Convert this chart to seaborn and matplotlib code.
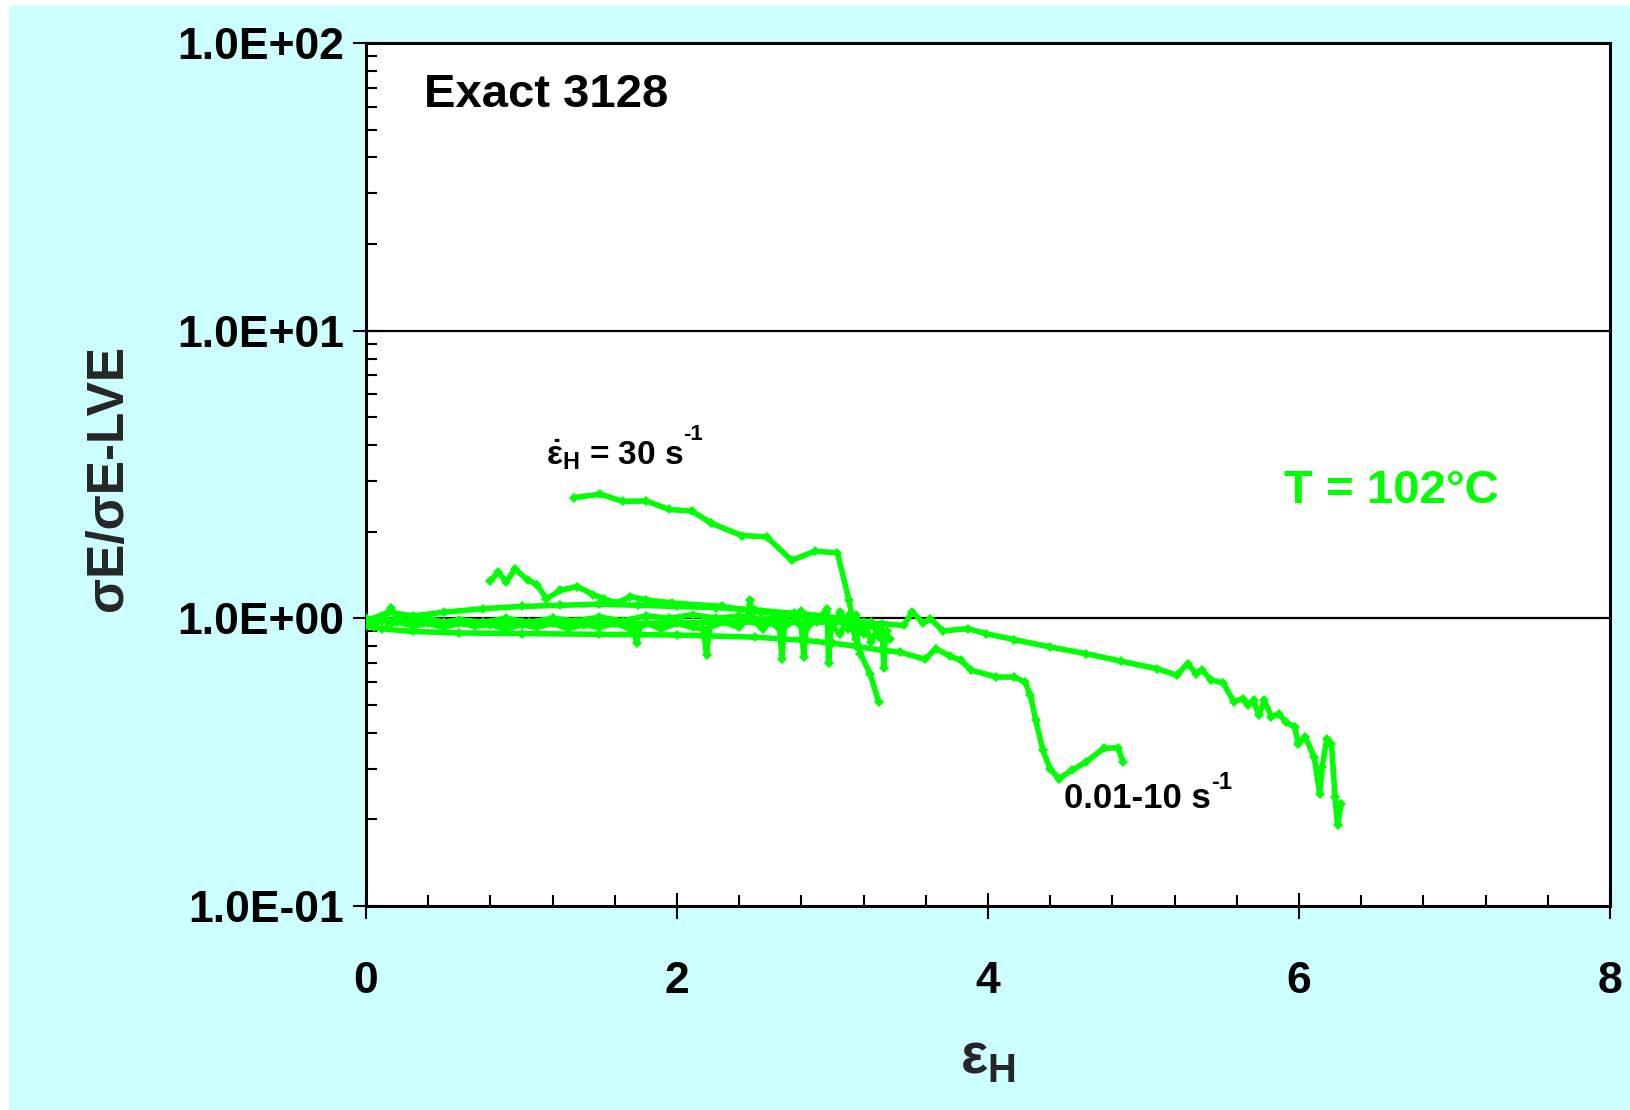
import matplotlib
matplotlib.use("Agg")
import matplotlib.pyplot as plt
from matplotlib.patches import Rectangle
from matplotlib.ticker import FixedLocator, FuncFormatter, MultipleLocator, LogLocator, NullFormatter
import seaborn as sns
import pandas as pd

# ---- data: Hencky strain vs. normalised extensional stress ----
eps_A = [0, 0.1, 0.3, 0.6, 1.0, 1.4, 1.8, 2.2, 2.6, 3.0, 3.2, 3.319, 3.457, 3.514, 3.583,
         3.63, 3.71, 3.871, 3.985, 4.169, 4.399, 4.628, 4.858, 5.088, 5.214, 5.283, 5.34,
         5.375, 5.432, 5.513, 5.581, 5.639, 5.674, 5.708, 5.742, 5.777, 5.823, 5.869,
         5.915, 5.972, 5.995, 6.041, 6.098, 6.133, 6.149, 6.179, 6.209, 6.232, 6.248, 6.271]
ratio_A = [0.97, 0.99, 0.98, 0.97, 0.97, 0.96, 0.96, 0.97, 0.97, 0.97, 0.96, 0.958, 0.945,
           1.052, 0.963, 0.998, 0.904, 0.921, 0.885, 0.843, 0.795, 0.754, 0.709, 0.668,
           0.634, 0.696, 0.642, 0.663, 0.612, 0.596, 0.512, 0.526, 0.499, 0.519, 0.460,
           0.519, 0.454, 0.466, 0.436, 0.419, 0.367, 0.387, 0.329, 0.246, 0.304, 0.382,
           0.367, 0.239, 0.191, 0.227]

eps_B = [0, 0.1, 0.3, 0.6, 1.0, 1.5, 2.0, 2.5, 2.8, 3.0, 3.15, 3.319, 3.434, 3.595, 3.664,
         3.756, 3.824, 3.893, 4.054, 4.169, 4.238, 4.273, 4.307, 4.353, 4.399, 4.456,
         4.537, 4.628, 4.743, 4.835, 4.87]
ratio_B = [0.94, 0.92, 0.90, 0.89, 0.885, 0.88, 0.875, 0.86, 0.84, 0.82, 0.80, 0.774,
           0.763, 0.720, 0.785, 0.738, 0.715, 0.660, 0.625, 0.625, 0.600, 0.540, 0.442,
           0.348, 0.300, 0.277, 0.296, 0.316, 0.353, 0.355, 0.316]

eps_C = [0, 0.15, 0.3, 0.5, 0.75, 1.0, 1.25, 1.5, 1.75, 2.0, 2.25, 2.5, 2.75, 2.95, 3.1, 3.2]
ratio_C = [0.98, 1.05, 1.02, 1.05, 1.08, 1.10, 1.11, 1.12, 1.11, 1.10, 1.09, 1.07, 1.04,
           1.02, 0.98, 0.92]

eps_D = [0.80, 0.85, 0.90, 0.96, 1.04, 1.10, 1.16, 1.25, 1.36, 1.46, 1.53, 1.61, 1.70,
         1.80, 1.97, 2.29, 2.54, 2.78, 3.0, 3.2, 3.35]
ratio_D = [1.35, 1.45, 1.34, 1.48, 1.36, 1.31, 1.17, 1.25, 1.29, 1.21, 1.17, 1.13, 1.19,
           1.16, 1.13, 1.10, 1.05, 1.02, 0.98, 0.95, 0.90]

eps_E = [0, 0.05, 0.1, 0.15, 0.2, 0.3, 0.4, 0.5, 0.6, 0.7, 0.8, 0.9, 1.0, 1.1, 1.2,
         1.3, 1.4, 1.5, 1.6, 1.7, 1.72, 1.74, 1.76, 1.8, 1.9, 2.0, 2.1, 2.17, 2.19, 2.21,
         2.3, 2.4, 2.45, 2.47, 2.49, 2.55, 2.6, 2.66, 2.675, 2.69, 2.75, 2.8, 2.815, 2.83,
         2.9, 2.96, 2.965, 2.975, 2.99, 3.05, 3.1, 3.15, 3.2, 3.25, 3.3, 3.32, 3.33, 3.34,
         3.37]
ratio_E = [0.96, 0.93, 1.02, 0.95, 0.97, 0.94, 0.96, 0.93, 0.96, 0.94, 0.95, 0.92, 0.95,
           0.93, 0.96, 0.92, 0.95, 0.93, 0.96, 0.92, 0.93, 0.82, 0.93, 0.96, 0.92, 0.96,
           0.93, 0.92, 0.745, 0.93, 0.97, 0.93, 1.0, 1.16, 0.98, 0.92, 0.97, 0.92, 0.725,
           0.93, 0.98, 0.94, 0.735, 0.92, 0.99, 1.0, 1.08, 0.70, 0.95, 0.88, 1.02, 0.85,
           0.97, 0.83, 0.95, 0.90, 0.67, 0.88, 0.85]

eps_F = [0, 0.05, 0.1, 0.16, 0.2, 0.3, 0.4, 0.5, 0.6, 0.75, 0.9, 1.05, 1.2, 1.35, 1.5,
         1.65, 1.8, 1.95, 2.1, 2.25, 2.4, 2.55, 2.7, 2.8, 2.9, 2.95, 3.0, 3.05, 3.1, 3.15,
         3.2, 3.25, 3.3]
ratio_F = [1.0, 0.96, 0.98, 1.09, 1.0, 0.97, 1.0, 0.97, 0.99, 0.97, 1.0, 0.97, 1.0, 0.98,
           1.01, 0.98, 1.02, 1.0, 1.03, 1.0, 1.02, 0.99, 1.01, 1.06, 0.97, 1.04, 0.95,
           1.05, 0.92, 1.03, 0.88, 0.97, 0.86]

eps_30 = [1.339, 1.506, 1.654, 1.802, 1.949, 2.097, 2.22, 2.417, 2.577, 2.737, 2.885,
          3.032, 3.106, 3.143, 3.18, 3.241, 3.298]
ratio_30 = [2.63, 2.70, 2.55, 2.56, 2.39, 2.36, 2.14, 1.94, 1.92, 1.59, 1.71, 1.69,
            1.155, 0.908, 0.754, 0.642, 0.512]

y_ticks = [0.1, 1, 10, 100]
x_ticks = [0, 2, 4, 6, 8]

runs = [(eps_A, ratio_A), (eps_B, ratio_B), (eps_C, ratio_C), (eps_D, ratio_D),
        (eps_E, ratio_E), (eps_F, ratio_F), (eps_30, ratio_30)]

# ---- style ----
sns.set_theme(style="white")
plt.rcParams["font.family"] = ["Liberation Sans", "DejaVu Sans"]
plt.rcParams["font.weight"] = "bold"
plt.rcParams["axes.unicode_minus"] = False
plt.rcParams["mathtext.fontset"] = "custom"
plt.rcParams["mathtext.rm"] = "Liberation Sans:bold"
plt.rcParams["mathtext.it"] = "Liberation Sans:bold"
plt.rcParams["mathtext.bf"] = "Liberation Sans:bold"
plt.rcParams["mathtext.sf"] = "Liberation Sans:bold"

GREEN = "#00FF00"
W, H = 1631, 1110
fig = plt.figure(figsize=(W / 100, H / 100), dpi=100)
fig.patch.set_facecolor("white")
fig.add_artist(Rectangle((9 / W, 0), 1 - 9 / W, 1 - 6 / H, transform=fig.transFigure,
                         facecolor="#CCFFFF", edgecolor="none", zorder=-10))

ax_l, ax_r, ax_t, ax_b = 366, 1610, 43, 906
ax = fig.add_axes([ax_l / W, 1 - ax_b / H, (ax_r - ax_l) / W, (ax_b - ax_t) / H])
ax.set_zorder(1)
ax.set_facecolor("white")

for xs, ys in runs:
    df = pd.DataFrame({"strain": xs, "ratio": ys})
    sns.lineplot(data=df, x="strain", y="ratio", ax=ax, sort=False, estimator=None,
                 color=GREEN, lw=4, marker="D", markersize=5.5, markeredgewidth=0,
                 zorder=3)

ax.set_yscale("log")
ax.set_ylim(0.1, 100)
ax.set_xlim(0, 8)

ax.yaxis.set_major_locator(FixedLocator(y_ticks))
ax.yaxis.set_major_formatter(FuncFormatter(lambda v, p: f"{v:.1E}"))
ax.yaxis.set_minor_locator(LogLocator(base=10, subs=range(2, 10)))
ax.yaxis.set_minor_formatter(NullFormatter())
ax.xaxis.set_major_locator(FixedLocator(x_ticks))
ax.xaxis.set_minor_locator(MultipleLocator(0.4))

ax.grid(False)
for v in [1, 10]:
    ax.axhline(v, color="black", lw=1.6, zorder=2)

for s in ax.spines.values():
    s.set_visible(True)
    s.set_color("black")
    s.set_linewidth(2.2)

ax.tick_params(axis="both", which="major", direction="inout", length=19, width=1.5,
               color="black", labelsize=32, labelcolor="black")
ax.tick_params(axis="y", which="major", pad=6, left=True, right=False)
ax.tick_params(axis="x", which="major", pad=30, bottom=True, top=False)
ax.tick_params(axis="both", which="minor", direction="in", length=8, width=1.5,
               color="black")
ax.tick_params(axis="y", which="minor", left=True, right=False)
ax.tick_params(axis="x", which="minor", bottom=True, top=False)
for lab in ax.get_xticklabels() + ax.get_yticklabels():
    lab.set_fontweight("bold")

ax.set_xlabel(r"ε$_{\mathrm{H}}$", fontsize=41, fontweight="bold", va="center")
ax.xaxis.set_label_coords(0.5, -(1058 - ax_b) / (ax_b - ax_t))
ax.set_ylabel("σE/σE-LVE", fontsize=37, fontweight="bold", va="center", ha="center")
ax.yaxis.set_label_coords((109 - ax_l) / (ax_r - ax_l), (ax_b - 478) / (ax_b - ax_t))

ax.text(0.047, 0.94, "Exact 3128", transform=ax.transAxes, fontsize=34,
        fontweight="bold", ha="left", va="center", color="black")
ax.text(0.824, 0.481, "T = 102°C", transform=ax.transAxes, fontsize=34,
        fontweight="bold", ha="center", va="center", color=GREEN)

# rate annotations, with the "-1" exponent set as a raised small label
rate_hi = ax.text(1.60, 3.7, r"$\dot{\varepsilon}_{\mathrm{H}}$ = 30 s",
                  fontsize=24, fontweight="bold", ha="center", va="center", color="black")
ax.annotate("-1", xy=(1.0, 0.78), xycoords=rate_hi, ha="left", va="bottom",
            fontsize=16, fontweight="bold", color="black")
rate_lo = ax.text(4.96, 0.237, "0.01-10 s", fontsize=25, fontweight="bold",
                  ha="center", va="center", color="black")
ax.annotate("-1", xy=(1.0, 0.62), xycoords=rate_lo, ha="left", va="bottom",
            fontsize=17, fontweight="bold", color="black")

fig.savefig("out.png", dpi=100, facecolor=fig.get_facecolor())
